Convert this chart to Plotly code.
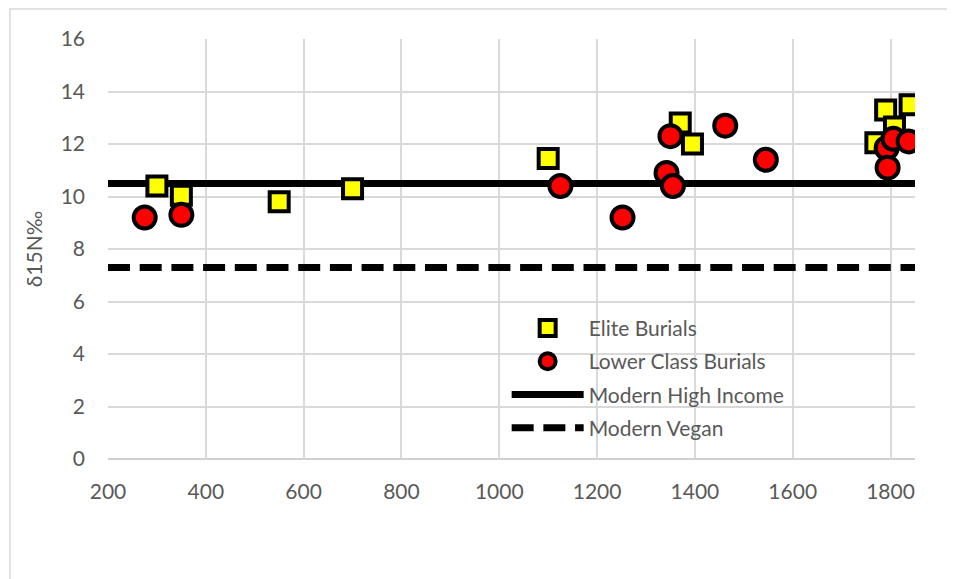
import plotly.graph_objects as go

# Elite burials (yellow squares)
elite_year = [300, 350, 550, 700, 1100, 1370, 1395, 1770, 1790, 1808, 1840]
elite_d15n = [10.4, 10.05, 9.8, 10.3, 11.45, 12.8, 12.0, 12.05, 13.3, 12.65, 13.5]

# Lower class burials (red circles)
lower_year = [275, 350, 1125, 1252, 1342, 1350, 1355, 1462, 1545, 1792, 1794, 1806, 1837]
lower_d15n = [9.2, 9.3, 10.4, 9.2, 10.9, 12.3, 10.4, 12.7, 11.4, 11.85, 11.1, 12.2, 12.1]

# Modern reference levels
line_x = [200, 1850]
high_income = [10.5, 10.5]
vegan = [7.3, 7.3]

x_ticks = [200, 400, 600, 800, 1000, 1200, 1400, 1600, 1800]
y_ticks = [0, 2, 4, 6, 8, 10, 12, 14, 16]

FONT = "Lato"
GRAY = "#595959"
FS = 21

fig = go.Figure()

fig.add_trace(go.Scatter(
    x=line_x, y=high_income, mode="lines", name="Modern High Income",
    line=dict(color="black", width=7), legendrank=3, legendgroup="c",
))
fig.add_trace(go.Scatter(
    x=line_x, y=vegan, mode="lines", name="Modern Vegan",
    line=dict(color="black", width=7, dash="22px,9.7px"), legendrank=4,
    legendgroup="d",
))
fig.add_trace(go.Scatter(
    x=elite_year, y=elite_d15n, mode="markers", name="Elite Burials",
    marker=dict(symbol="square", size=19, color="#ffff00",
                line=dict(color="black", width=4)),
    legendrank=1, legendgroup="a",
))
fig.add_trace(go.Scatter(
    x=lower_year, y=lower_d15n, mode="markers", name="Lower Class Burials",
    marker=dict(symbol="circle", size=22, color="#ff0000",
                line=dict(color="black", width=4)),
    legendrank=2, legendgroup="b",
))

fig.update_layout(
    width=947, height=571,
    margin=dict(l=100, r=40, t=31, b=120),
    paper_bgcolor="white", plot_bgcolor="white",
    font=dict(family=FONT, size=FS, color=GRAY),
    showlegend=True,
    legend=dict(
        x=0.494, y=0.36, xanchor="left", yanchor="top",
        bgcolor="rgba(0,0,0,0)", itemwidth=72,
        font=dict(family=FONT, size=FS, color=GRAY),
        traceorder="grouped", tracegroupgap=3, groupclick="toggleitem",
    ),
    xaxis=dict(
        range=[200, 1850], tickmode="array", tickvals=x_ticks,
        ticktext=[str(v) for v in x_ticks],
        showgrid=True, gridcolor="#d9d9d9", gridwidth=1.5,
        zeroline=False, showline=False,
        ticks="", ticklabelstandoff=18,
        tickfont=dict(family=FONT, size=FS, color=GRAY),
    ),
    yaxis=dict(
        range=[0, 16], tickmode="array", tickvals=y_ticks,
        ticktext=[str(v) for v in y_ticks],
        showgrid=True, gridcolor="#d9d9d9", gridwidth=1.5,
        zeroline=False, showline=False,
        ticks="", ticklabelstandoff=22,
        tickfont=dict(family=FONT, size=FS, color=GRAY),
        title=dict(text="δ15N‰", font=dict(family=FONT, size=FS, color=GRAY),
                   standoff=12),
    ),
    shapes=[
        dict(type="line", xref="paper", yref="paper", x0=0, x1=1, y0=0, y1=0,
             line=dict(color="#bfbfbf", width=1.5), layer="below"),
        dict(type="rect", xref="paper", yref="paper",
             x0=-0.1215, x1=1.2, y0=-0.3, y1=1.0714,
             line=dict(color="#d9d9d9", width=1.5), layer="below"),
    ],
)

fig.write_html("out.html")
